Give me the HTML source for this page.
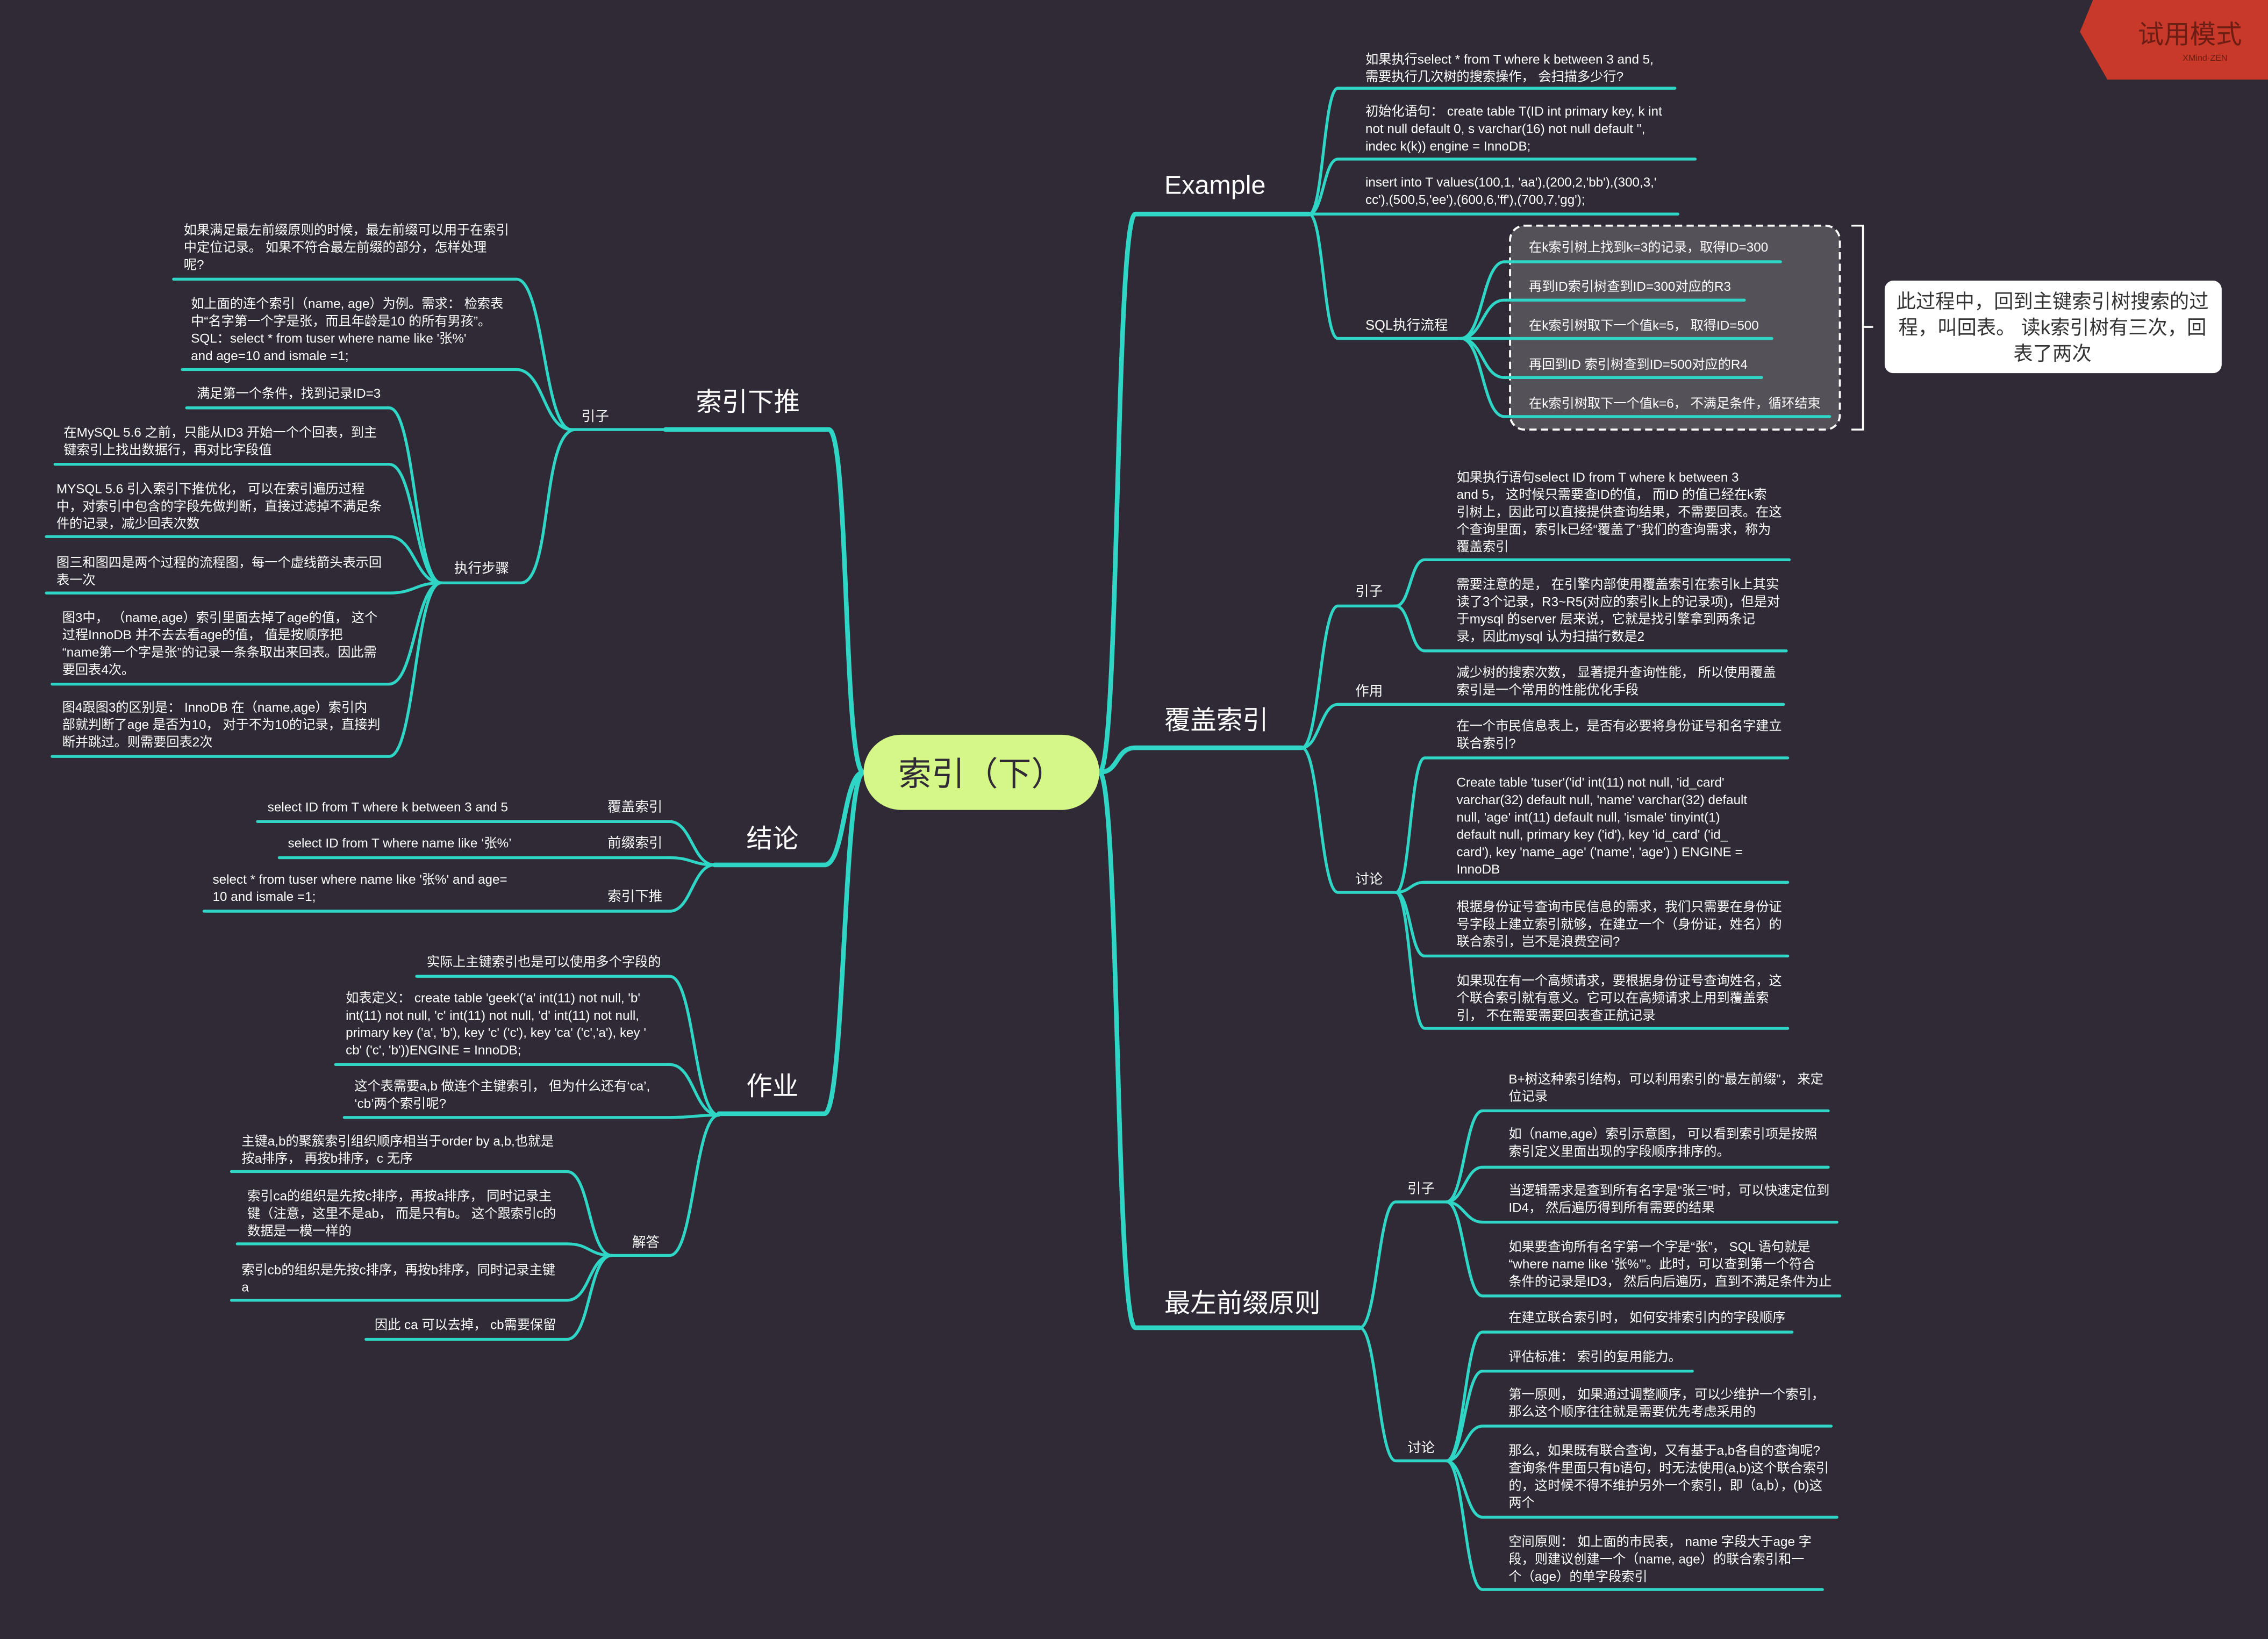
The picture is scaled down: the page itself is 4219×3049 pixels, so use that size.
<!DOCTYPE html>
<html><head><meta charset="utf-8"><style>
html,body{margin:0;padding:0;background:#2f2a35;}
svg{display:block}
text{font-family:"Liberation Sans","Noto Sans CJK SC",sans-serif;fill:#fff;font-size:9px}
.t{font-size:18px}
.s{font-size:9.5px}
path{fill:none;stroke:#2fd6c6;stroke-width:2;stroke-linecap:round}
.m{stroke-width:3.2}
</style></head><body>
<svg width="4219" height="3049" viewBox="0 0 1568 1133.2" xmlns="http://www.w3.org/2000/svg">
<rect x="0" y="0" width="1568" height="1134" fill="#2f2a35"/>

<!-- trial badge -->
<polygon points="1447,0 1568,0 1568,55 1457,55 1438,22" fill="#c8392a"/>
<text x="1478" y="30" style="font-size:18px;fill:#6e1d14">试用模式</text>
<text x="1509" y="42" style="font-size:6px;fill:#6e1d14">XMind·ZEN</text>

<!-- dashed box -->
<rect x="1044" y="156" width="228" height="141" rx="10" fill="#555158" stroke="#fff" stroke-width="1.4" stroke-dasharray="5,3"/>
<path d="M1280,156 H1288 V297 H1280 M1288,226 H1295" style="stroke:#fff;stroke-width:1.3;stroke-linecap:butt"/>
<rect x="1303" y="194" width="233" height="64" rx="6" fill="#fff"/>
<text x="1419" y="213" text-anchor="middle" style="font-size:13.5px;fill:#333">此过程中，回到主键索引树搜索的过</text>
<text x="1419" y="231" text-anchor="middle" style="font-size:13.5px;fill:#333">程，叫回表。 读k索引树有三次，回</text>
<text x="1419" y="249" text-anchor="middle" style="font-size:13.5px;fill:#333">表了两次</text>

<!-- main connectors -->
<path class="m" d="M760,534 C774,534 771,148 785,148 H905"/>
<path class="m" d="M760,534 C774,534 771,517 785,517 H900"/>
<path class="m" d="M760,534 C774,534 771,918 785,918 H940"/>
<path class="m" d="M597,534 C583,534 587,297 573,297 H460"/>
<path class="m" d="M597,534 C583,534 584,598 570,598 H494"/>
<path class="m" d="M597,534 C583,534 584,770 570,770 H497"/>

<!-- center -->
<rect x="597" y="508" width="163" height="52" rx="26" fill="#d4f787"/>
<text x="678.5" y="543" text-anchor="middle" style="font-size:23px;fill:#2f2a35">索引（下）</text>

<!-- topics -->
<text class="t" x="805" y="134">Example</text>
<text class="t" x="805" y="504">覆盖索引</text>
<text class="t" x="805" y="907">最左前缀原则</text>
<text class="t" x="481" y="284">索引下推</text>
<text class="t" x="516" y="586">结论</text>
<text class="t" x="516" y="757">作业</text>

<!-- Example -->
<path d="M905,148 C915,148 915,61 925,61 H1158"/>
<path d="M905,148 C915,148 915,110 925,110 H1172"/>
<path d="M905,148 H1160"/>
<path d="M905,148 C915,148 915,234 925,234 H1010"/>
<text x="944" y="44">如果执行select * from T where k between 3 and 5,</text>
<text x="944" y="56">需要执行几次树的搜索操作， 会扫描多少行?</text>
<text x="944" y="80">初始化语句： create table T(ID int primary key, k int</text>
<text x="944" y="92">not null default 0, s varchar(16) not null default '',</text>
<text x="944" y="104">indec k(k)) engine = InnoDB;</text>
<text x="944" y="129">insert into T values(100,1, 'aa'),(200,2,'bb'),(300,3,'</text>
<text x="944" y="141">cc'),(500,5,'ee'),(600,6,'ff'),(700,7,'gg');</text>
<text class="s" x="944" y="228">SQL执行流程</text>
<path d="M1010,234 C1025,234 1025,181 1040,181 H1231"/>
<path d="M1010,234 C1025,234 1025,207.5 1040,207.5 H1206"/>
<path d="M1010,234 H1225"/>
<path d="M1010,234 C1025,234 1025,261 1040,261 H1218"/>
<path d="M1010,234 C1025,234 1025,288 1040,288 H1265"/>
<text x="1057" y="174">在k索引树上找到k=3的记录，取得ID=300</text>
<text x="1057" y="201">再到ID索引树查到ID=300对应的R3</text>
<text x="1057" y="228">在k索引树取下一个值k=5， 取得ID=500</text>
<text x="1057" y="255">再回到ID 索引树查到ID=500对应的R4</text>
<text x="1057" y="282">在k索引树取下一个值k=6， 不满足条件，循环结束</text>

<!-- 覆盖索引 -->
<path d="M900,517 C912,517 913,419 925,419 H965"/>
<path d="M900,517 C912,517 913,487 925,487 H1233"/>
<path d="M900,517 C912,517 913,617 925,617 H965"/>
<text class="s" x="937" y="412">引子</text>
<text class="s" x="937" y="481">作用</text>
<text class="s" x="937" y="611">讨论</text>
<path d="M965,419 C975,419 975,387 985,387 H1237"/>
<path d="M965,419 C975,419 975,450 985,450 H1235"/>
<text x="1007" y="333">如果执行语句select ID from T where k between 3</text>
<text x="1007" y="345">and 5， 这时候只需要查ID的值， 而ID 的值已经在k索</text>
<text x="1007" y="357">引树上，因此可以直接提供查询结果，不需要回表。在这</text>
<text x="1007" y="369">个查询里面，索引k已经“覆盖了”我们的查询需求，称为</text>
<text x="1007" y="381">覆盖索引</text>
<text x="1007" y="407">需要注意的是， 在引擎内部使用覆盖索引在索引k上其实</text>
<text x="1007" y="419">读了3个记录，R3~R5(对应的索引k上的记录项)，但是对</text>
<text x="1007" y="431">于mysql 的server 层来说，它就是找引擎拿到两条记</text>
<text x="1007" y="443">录，因此mysql 认为扫描行数是2</text>
<text x="1007" y="468">减少树的搜索次数， 显著提升查询性能， 所以使用覆盖</text>
<text x="1007" y="480">索引是一个常用的性能优化手段</text>
<path d="M965,617 C975,617 975,524 985,524 H1236"/>
<path d="M965,617 C975,617 975,610 985,610 H1236"/>
<path d="M965,617 C975,617 975,661 985,661 H1236"/>
<path d="M965,617 C975,617 975,711 985,711 H1236"/>
<text x="1007" y="505">在一个市民信息表上，是否有必要将身份证号和名字建立</text>
<text x="1007" y="517">联合索引?</text>
<text x="1007" y="544">Create table 'tuser'('id' int(11) not null, 'id_card'</text>
<text x="1007" y="556">varchar(32) default null, 'name' varchar(32) default</text>
<text x="1007" y="568">null, 'age' int(11) default null, 'ismale' tinyint(1)</text>
<text x="1007" y="580">default null, primary key ('id'), key 'id_card' ('id_</text>
<text x="1007" y="592">card'), key 'name_age' ('name', 'age') ) ENGINE =</text>
<text x="1007" y="604">InnoDB</text>
<text x="1007" y="630">根据身份证号查询市民信息的需求，我们只需要在身份证</text>
<text x="1007" y="642">号字段上建立索引就够，在建立一个（身份证，姓名）的</text>
<text x="1007" y="654">联合索引，岂不是浪费空间?</text>
<text x="1007" y="681">如果现在有一个高频请求，要根据身份证号查询姓名，这</text>
<text x="1007" y="693">个联合索引就有意义。它可以在高频请求上用到覆盖索</text>
<text x="1007" y="705">引， 不在需要需要回表查正航记录</text>

<!-- 最左前缀原则 -->
<path d="M940,918 C952,918 953,831 965,831 H1000"/>
<path d="M940,918 C952,918 953,1010 965,1010 H1000"/>
<text class="s" x="973" y="825">引子</text>
<text class="s" x="973" y="1004">讨论</text>
<path d="M1000,831 C1012,831 1013,768 1025,768 H1264"/>
<path d="M1000,831 C1012,831 1013,807 1025,807 H1264"/>
<path d="M1000,831 C1012,831 1013,845 1025,845 H1270"/>
<path d="M1000,831 C1012,831 1013,896 1025,896 H1272"/>
<text x="1043" y="749">B+树这种索引结构，可以利用索引的“最左前缀”， 来定</text>
<text x="1043" y="761">位记录</text>
<text x="1043" y="787">如（name,age）索引示意图， 可以看到索引项是按照</text>
<text x="1043" y="799">索引定义里面出现的字段顺序排序的。</text>
<text x="1043" y="826">当逻辑需求是查到所有名字是“张三”时，可以快速定位到</text>
<text x="1043" y="838">ID4， 然后遍历得到所有需要的结果</text>
<text x="1043" y="865">如果要查询所有名字第一个字是“张”， SQL 语句就是</text>
<text x="1043" y="877">“where name like ‘张%’”。此时，可以查到第一个符合</text>
<text x="1043" y="889">条件的记录是ID3， 然后向后遍历，直到不满足条件为止</text>
<path d="M1000,1010 C1012,1010 1013,921 1025,921 H1239"/>
<path d="M1000,1010 C1012,1010 1013,948 1025,948 H1170"/>
<path d="M1000,1010 C1012,1010 1013,986 1025,986 H1266"/>
<path d="M1000,1010 C1012,1010 1013,1049 1025,1049 H1270"/>
<path d="M1000,1010 C1012,1010 1013,1099 1025,1099 H1260"/>
<text x="1043" y="914">在建立联合索引时， 如何安排索引内的字段顺序</text>
<text x="1043" y="941">评估标准： 索引的复用能力。</text>
<text x="1043" y="967">第一原则， 如果通过调整顺序，可以少维护一个索引，</text>
<text x="1043" y="979">那么这个顺序往往就是需要优先考虑采用的</text>
<text x="1043" y="1006">那么，如果既有联合查询，又有基于a,b各自的查询呢?</text>
<text x="1043" y="1018">查询条件里面只有b语句，时无法使用(a,b)这个联合索引</text>
<text x="1043" y="1030">的，这时候不得不维护另外一个索引，即（a,b），(b)这</text>
<text x="1043" y="1042">两个</text>
<text x="1043" y="1069">空间原则： 如上面的市民表， name 字段大于age 字</text>
<text x="1043" y="1081">段，则建议创建一个（name, age）的联合索引和一</text>
<text x="1043" y="1093">个（age）的单字段索引</text>

<!-- 索引下推 -->
<path d="M460,297 H395"/>
<path d="M398,297 C374,297 382,403 360,403 H305"/>
<text class="s" x="402" y="291">引子</text>
<text class="s" x="314" y="396">执行步骤</text>
<path d="M395,297 C376,297 376,193 357,193 H120"/>
<path d="M395,297 C376,297 376,255.5 357,255.5 H126"/>
<text x="127" y="162">如果满足最左前缀原则的时候，最左前缀可以用于在索引</text>
<text x="127" y="174">中定位记录。 如果不符合最左前缀的部分，怎样处理</text>
<text x="127" y="186">呢?</text>
<text x="132" y="213">如上面的连个索引（name, age）为例。需求： 检索表</text>
<text x="132" y="225">中“名字第一个字是张，而且年龄是10 的所有男孩”。</text>
<text x="132" y="237">SQL：select * from tuser where name like '张%'</text>
<text x="132" y="249">and age=10 and ismale =1;</text>
<path d="M305,403 C287,403 287,282 269,282 H129"/>
<path d="M305,403 C287,403 287,321 269,321 H38"/>
<path d="M305,403 C287,403 287,371 269,371 H32"/>
<path d="M305,403 C287,403 287,410 269,410 H32"/>
<path d="M305,403 C287,403 287,473 269,473 H36"/>
<path d="M305,403 C287,403 287,523 269,523 H36"/>
<text x="136" y="275">满足第一个条件，找到记录ID=3</text>
<text x="44" y="302">在MySQL 5.6 之前，只能从ID3 开始一个个回表，到主</text>
<text x="44" y="314">键索引上找出数据行，再对比字段值</text>
<text x="39" y="341">MYSQL 5.6 引入索引下推优化， 可以在索引遍历过程</text>
<text x="39" y="353">中，对索引中包含的字段先做判断，直接过滤掉不满足条</text>
<text x="39" y="365">件的记录，减少回表次数</text>
<text x="39" y="392">图三和图四是两个过程的流程图，每一个虚线箭头表示回</text>
<text x="39" y="404">表一次</text>
<text x="43" y="430">图3中， （name,age）索引里面去掉了age的值， 这个</text>
<text x="43" y="442">过程InnoDB 并不去去看age的值， 值是按顺序把</text>
<text x="43" y="454">“name第一个字是张”的记录一条条取出来回表。因此需</text>
<text x="43" y="466">要回表4次。</text>
<text x="43" y="492">图4跟图3的区别是： InnoDB 在（name,age）索引内</text>
<text x="43" y="504">部就判断了age 是否为10， 对于不为10的记录，直接判</text>
<text x="43" y="516">断并跳过。则需要回表2次</text>

<!-- 结论 -->
<path d="M494,598 C479,598 478,568 463,568 H178"/>
<path d="M494,598 C479,598 478,593 463,593 H193"/>
<path d="M494,598 C479,598 478,630 463,630 H141"/>
<text x="185" y="561">select ID from T where k between 3 and 5</text>
<text class="s" x="420" y="561">覆盖索引</text>
<text x="199" y="586">select ID from T where name like ‘张%’</text>
<text class="s" x="420" y="586">前缀索引</text>
<text x="147" y="611">select * from tuser where name like '张%' and age=</text>
<text x="147" y="623">10 and ismale =1;</text>
<text class="s" x="420" y="623">索引下推</text>

<!-- 作业 -->
<path d="M497,771 C480,771 480,675 463,675 H288"/>
<path d="M497,771 C480,771 480,736 463,736 H232"/>
<path d="M497,771 C480,771 480,772.6 463,772.6 H238"/>
<path d="M497,771 C480,771 480,868 463,868 H423"/>
<text x="295" y="668">实际上主键索引也是可以使用多个字段的</text>
<text x="239" y="693">如表定义： create table 'geek'('a' int(11) not null, 'b'</text>
<text x="239" y="705">int(11) not null, 'c' int(11) not null, 'd' int(11) not null,</text>
<text x="239" y="717">primary key ('a', 'b'), key 'c' ('c'), key 'ca' ('c','a'), key '</text>
<text x="239" y="729">cb' ('c', 'b'))ENGINE = InnoDB;</text>
<text x="245" y="754">这个表需要a,b 做连个主键索引， 但为什么还有‘ca’,</text>
<text x="245" y="766">‘cb’两个索引呢?</text>
<text class="s" x="437" y="862">解答</text>
<path d="M423,868 C407,868 408,810 392,810 H160"/>
<path d="M423,868 C407,868 408,860 392,860 H164"/>
<path d="M423,868 C407,868 408,899 392,899 H160"/>
<path d="M423,868 C407,868 408,926 392,926 H253"/>
<text x="167" y="792">主键a,b的聚簇索引组织顺序相当于order by a,b,也就是</text>
<text x="167" y="804">按a排序， 再按b排序，c 无序</text>
<text x="171" y="830">索引ca的组织是先按c排序，再按a排序， 同时记录主</text>
<text x="171" y="842">键（注意，这里不是ab， 而是只有b。 这个跟索引c的</text>
<text x="171" y="854">数据是一模一样的</text>
<text x="167" y="881">索引cb的组织是先按c排序，再按b排序，同时记录主键</text>
<text x="167" y="893">a</text>
<text x="259" y="919">因此 ca 可以去掉， cb需要保留</text>
</svg>
</body></html>
